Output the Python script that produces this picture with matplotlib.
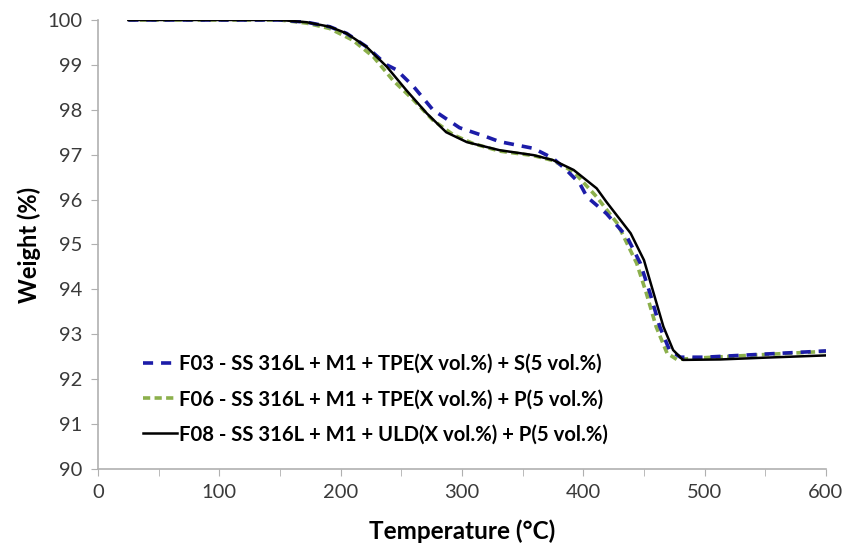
import matplotlib
matplotlib.use('Agg')
from matplotlib import pyplot as plt
from matplotlib.ticker import MultipleLocator

# TGA curves
t_f03 = [25, 100, 150, 172, 191, 205, 221, 238, 246, 260, 276, 298, 320, 331, 359,
         375, 386, 397, 403, 419, 436, 447, 455, 463, 471, 480, 500, 550, 600]
w_f03 = [100, 100, 100, 99.95, 99.85, 99.70, 99.41, 99.00, 98.89, 98.52, 98.00, 97.60, 97.40, 97.29, 97.14,
         96.92, 96.66, 96.36, 96.06, 95.69, 95.17, 94.58, 93.91, 93.17, 92.65, 92.49, 92.49, 92.56, 92.63]

t_f06 = [25, 100, 150, 172, 191, 210, 227, 243, 260, 276, 293, 309, 331, 359,
         375, 392, 411, 428, 444, 452, 460, 469, 477, 500, 550, 600]
w_f06 = [100, 100, 100, 99.93, 99.81, 99.55, 99.18, 98.66, 98.22, 97.77, 97.44, 97.25, 97.08, 96.98,
         96.87, 96.62, 96.06, 95.47, 94.58, 93.91, 93.17, 92.58, 92.44, 92.48, 92.55, 92.62]

t_f08 = [25, 100, 150, 172, 191, 205, 221, 238, 254, 271, 287, 304, 331, 359,
         375, 392, 411, 419, 439, 450, 458, 466, 474, 482, 513, 550, 600]
w_f08 = [100, 100, 100, 99.95, 99.85, 99.70, 99.41, 98.96, 98.44, 97.92, 97.50, 97.28, 97.10, 96.99,
         96.88, 96.66, 96.25, 95.95, 95.25, 94.65, 93.91, 93.17, 92.65, 92.43, 92.44, 92.48, 92.53]

labels = ['F03 - SS 316L + M1 + TPE(X vol.%) + S(5 vol.%)',
          'F06 - SS 316L + M1 + TPE(X vol.%) + P(5 vol.%)',
          'F08 - SS 316L + M1 + ULD(X vol.%) + P(5 vol.%)']

plt.rcParams['font.family'] = ['Lato', 'DejaVu Sans']

fig = plt.figure(figsize=(8.47, 5.49), dpi=100)
ax = fig.add_axes([0.1157, 0.1457, 0.8595, 0.8179])

ax.plot(t_f03, w_f03, color='#1c1ca8', linewidth=2.6, dashes=(2.8, 2.2), label=labels[0], zorder=3)
ax.plot(t_f06, w_f06, color='#8cb04c', linewidth=2.6, dashes=(2.0, 1.2), label=labels[1], zorder=2)
ax.plot(t_f08, w_f08, color='black', linewidth=1.8, label=labels[2], zorder=4)

ax.set_xlim(0, 600)
ax.set_ylim(90, 100)
ax.xaxis.set_major_locator(MultipleLocator(100))
ax.xaxis.set_minor_locator(MultipleLocator(50))
ax.yaxis.set_major_locator(MultipleLocator(1))

for s in ['top', 'right']:
    ax.spines[s].set_visible(False)
for s in ['left', 'bottom']:
    ax.spines[s].set_color('#b0b0b0')
    ax.spines[s].set_linewidth(1.2)
ax.tick_params(axis='both', which='both', direction='out', length=5, color='#b0b0b0',
               labelsize=14.5, labelcolor='#3a3a3a', pad=6)

ax.set_xlabel('Temperature (°C)', fontsize=17.5, fontweight='bold', labelpad=13)
ax.set_ylabel('Weight (%)', fontsize=17, fontweight='bold', labelpad=5)

leg = ax.legend(loc='lower left', bbox_to_anchor=(0.037, 0.014), frameon=False,
                prop={'weight': 'bold', 'size': 14.6}, handlelength=1.67, handletextpad=0.08,
                labelspacing=0.75)

plt.savefig('out.png', dpi=100)
